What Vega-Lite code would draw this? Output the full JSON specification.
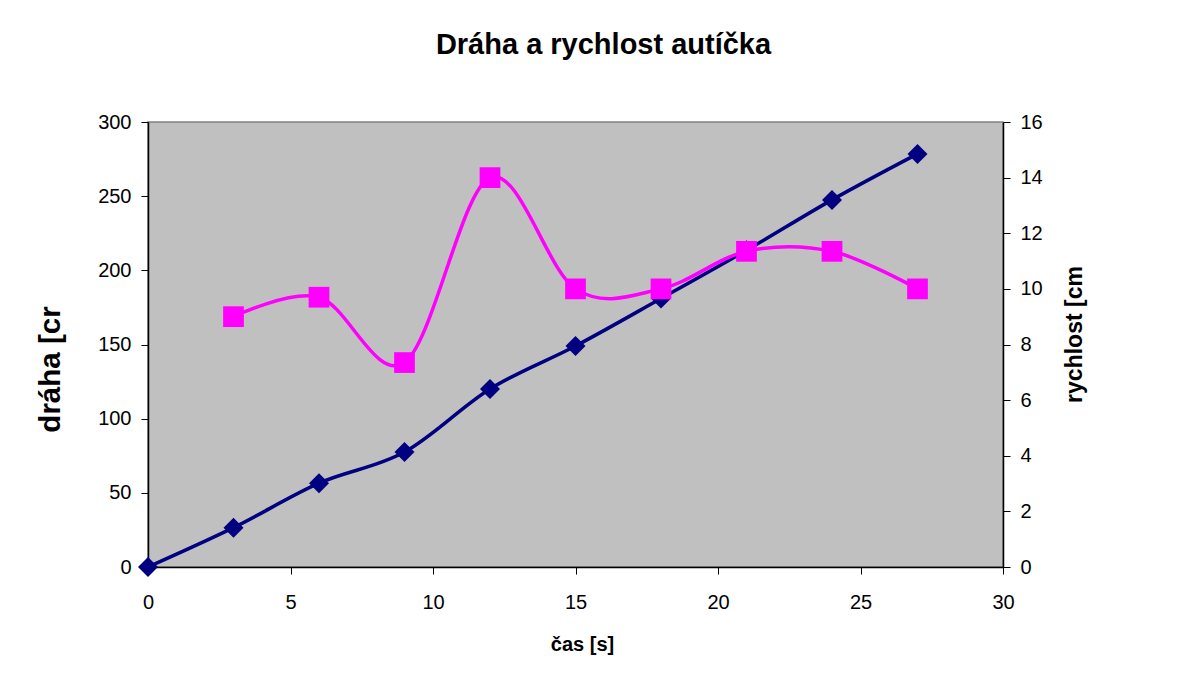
{
  "$schema": "https://vega.github.io/schema/vega-lite/v6.json",
  "width": 855,
  "height": 445,
  "autosize": {"type": "none"},
  "padding": {"left": 148, "top": 122, "right": 189, "bottom": 106},
  "background": "white",
  "config": {
    "font": "Liberation Sans",
    "view": {"fill": "#C0C0C0", "stroke": "#808080", "strokeWidth": 1.5},
    "axis": {
      "grid": false,
      "domainColor": "black",
      "domainWidth": 1.5,
      "tickColor": "black",
      "tickWidth": 1,
      "tickSize": 7,
      "labelFont": "Liberation Sans",
      "labelFontSize": 20,
      "labelColor": "black",
      "labelFlush": false,
      "labelOverlap": false,
      "titleFont": "Liberation Sans",
      "titleColor": "black",
      "titleFontWeight": "bold"
    }
  },
  "title": {
    "text": "Dráha a rychlost autíčka",
    "font": "Liberation Sans",
    "fontSize": 29,
    "fontWeight": "bold",
    "color": "black",
    "anchor": "middle",
    "baseline": "alphabetic",
    "dx": 28,
    "offset": 29
  },
  "data": {
    "values": [
      {"t": 0, "draha": 0, "rychlost": null},
      {"t": 3, "draha": 26.5, "rychlost": 9.0},
      {"t": 6, "draha": 56.5, "rychlost": 9.7},
      {"t": 9, "draha": 77.5, "rychlost": 7.35},
      {"t": 12, "draha": 120, "rychlost": 14.0},
      {"t": 15, "draha": 149, "rychlost": 10.0},
      {"t": 18, "draha": 181, "rychlost": 10.0},
      {"t": 21, "draha": 213.5, "rychlost": 11.35},
      {"t": 24, "draha": 247.5, "rychlost": 11.35},
      {"t": 27, "draha": 278.5, "rychlost": 10.0}
    ]
  },
  "encoding": {
    "x": {
      "field": "t",
      "type": "quantitative",
      "scale": {"domain": [0, 30], "nice": false, "zero": true},
      "axis": {
        "title": "čas [s]",
        "titleFontSize": 20,
        "values": [0, 5, 10, 15, 20, 25, 30],
        "labelPadding": 18,
        "titleX": 434,
        "titleY": 77,
        "titleBaseline": "middle",
        "titleAlign": "center"
      }
    }
  },
  "layer": [
    {
      "encoding": {
        "y": {
          "field": "draha",
          "type": "quantitative",
          "scale": {"domain": [0, 300], "nice": false},
          "axis": {
            "orient": "left",
            "title": "dráha [cr",
            "titleFontSize": 29.5,
            "titleAngle": -90,
            "titleX": -98,
            "titleY": 247,
            "titleAlign": "center",
            "titleBaseline": "middle",
            "values": [0, 50, 100, 150, 200, 250, 300],
            "labelPadding": 10
          }
        }
      },
      "layer": [
        {
          "mark": {"type": "line", "color": "#000080", "strokeWidth": 3.5, "interpolate": "cardinal", "clip": false}
        },
        {
          "mark": {"type": "point", "shape": "diamond", "filled": true, "color": "#000080", "size": 400, "opacity": 1, "clip": false}
        }
      ]
    },
    {
      "transform": [{"filter": "datum.rychlost != null"}],
      "encoding": {
        "y": {
          "field": "rychlost",
          "type": "quantitative",
          "scale": {"domain": [0, 16], "nice": false},
          "axis": {
            "orient": "right",
            "title": "rychlost [cm",
            "titleFontSize": 23,
            "titleAngle": -90,
            "titleX": 71,
            "titleY": 212,
            "titleAlign": "center",
            "titleBaseline": "middle",
            "values": [0, 2, 4, 6, 8, 10, 12, 14, 16],
            "labelPadding": 10
          }
        }
      },
      "layer": [
        {
          "mark": {"type": "line", "color": "#FF00FF", "strokeWidth": 3.5, "interpolate": "cardinal", "clip": false}
        },
        {
          "mark": {"type": "point", "shape": "square", "filled": true, "color": "#FF00FF", "size": 430, "opacity": 1, "clip": false}
        }
      ]
    }
  ],
  "resolve": {"scale": {"y": "independent"}}
}
